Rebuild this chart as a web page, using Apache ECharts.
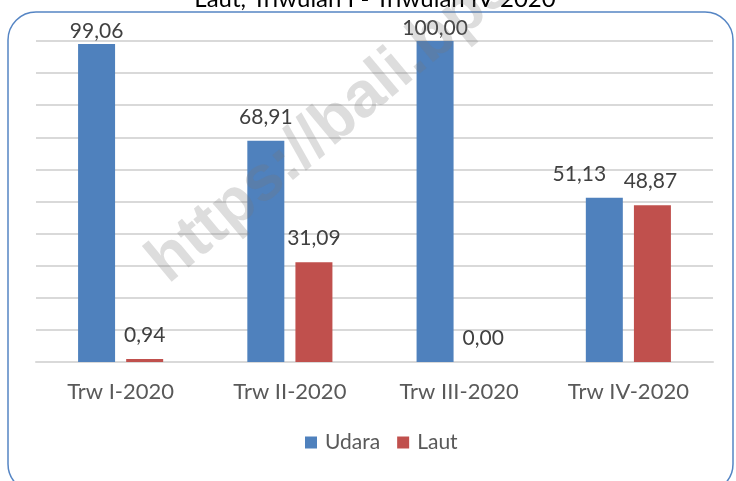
<!DOCTYPE html>
<html>

<head>
    <meta charset="utf-8">
    <script src="https://cdn.jsdelivr.net/npm/echarts@6/dist/echarts.min.js"></script>
    <title>Udara dan Laut</title>
</head>

<body style="margin:0;background:#fff;">
    <div id="main" style="width:736px;height:481px;"></div>
    <script type="text/javascript">
        var categories = ['Trw I-2020', 'Trw II-2020', 'Trw III-2020', 'Trw IV-2020'];
        var udara = [99.06, 68.91, 100.00, 51.13];
        var laut = [0.94, 31.09, 0.00, 48.87];
        var titleText = 'Laut, Triwulan I - Triwulan IV 2020';
        var watermarkText = 'https://bali.bps.go.id';

        var fontName = 'Lato';
        var myChart = echarts.init(document.getElementById('main'), null, { renderer: 'canvas' });

        function labelFmt(params) {
            return params.value.toFixed(2).replace('.', ',');
        }

        // labels that Excel nudged (near the top, or clashing in Trw IV)
        var labelTweaks = {
            Udara: { 0: { distance: 2 }, 2: { distance: 2 }, 3: { offset: [-25, 0] } },
            Laut: { 3: { offset: [-2, 0] } }
        };

        function buildData(name, values) {
            var out = [];
            for (var i = 0; i < values.length; i++) {
                var item = { value: values[i] };
                if (labelTweaks[name][i]) {
                    item.label = labelTweaks[name][i];
                }
                out.push(item);
            }
            return out;
        }

        var labelStyle = {
            show: true,
            position: 'top',
            distance: 13,
            formatter: labelFmt,
            fontSize: 21,
            color: '#404040',
            fontFamily: fontName
        };

        var option = {
            animation: false,
            backgroundColor: '#ffffff',
            textStyle: { fontFamily: fontName },
            grid: {
                left: 36,
                right: 23,
                top: 41,
                bottom: 119
            },
            legend: {
                data: ['Udara', 'Laut'],
                bottom: 23,
                left: 300,
                icon: 'rect',
                itemWidth: 12,
                itemHeight: 12,
                itemGap: 17,
                textStyle: { fontSize: 21, color: '#595959', fontFamily: fontName, padding: [0, 0, 0, 3] }
            },
            xAxis: {
                type: 'category',
                data: categories,
                axisTick: { show: false },
                axisLine: { lineStyle: { color: '#d9d9d9', width: 2 } },
                axisLabel: { fontSize: 22, color: '#595959', margin: 19, fontFamily: fontName }
            },
            yAxis: {
                type: 'value',
                min: 0,
                max: 100,
                interval: 10,
                axisLabel: { show: false },
                axisLine: { show: false },
                axisTick: { show: false },
                splitLine: { lineStyle: { color: '#d9d9d9', width: 2 } }
            },
            series: [{
                name: 'Udara',
                type: 'bar',
                data: buildData('Udara', udara),
                barWidth: 37,
                barGap: '30%',
                itemStyle: { color: '#4f81bd' },
                label: labelStyle
            }, {
                name: 'Laut',
                type: 'bar',
                data: buildData('Laut', laut),
                barWidth: 37,
                itemStyle: { color: '#c0504d' },
                label: labelStyle
            }],
            graphic: [{
                type: 'rect',
                z: -1,
                shape: { x: 8, y: 12, width: 725, height: 480, r: 28 },
                style: { fill: 'none', stroke: '#5585c4', lineWidth: 1.5 }
            }, {
                type: 'text',
                x: 375,
                y: 11,
                style: {
                    text: titleText,
                    fontSize: 24,
                    fontFamily: fontName,
                    fill: '#000000',
                    align: 'center',
                    verticalAlign: 'bottom'
                }
            }, {
                type: 'text',
                x: 157,
                y: 271,
                rotation: 40 * Math.PI / 180,
                z: 100,
                style: {
                    text: watermarkText,
                    fontSize: 64,
                    fontWeight: 'bold',
                    fontFamily: 'Liberation Sans',
                    fill: 'rgba(120,120,120,0.25)',
                    align: 'left',
                    verticalAlign: 'middle'
                }
            }]
        };

        myChart.setOption(option);
    </script>
</body>

</html>
